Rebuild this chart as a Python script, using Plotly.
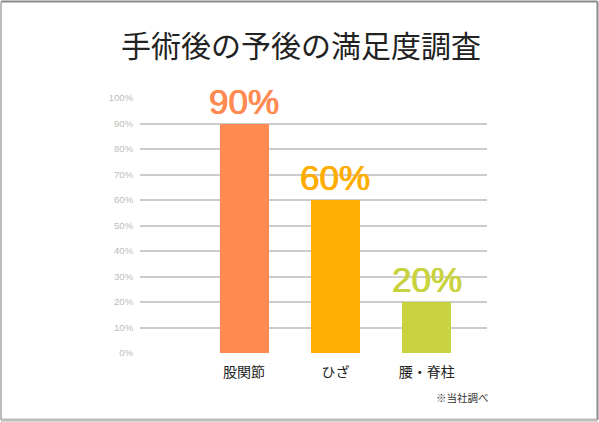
import plotly.graph_objects as go

categories = ["股関節", "ひざ", "腰・脊柱"]
values = [90, 60, 20]
labels = ["90%", "60%", "20%"]
colors = ["#FF8A52", "#FFAD00", "#C9D33F"]
tick_vals = [0, 10, 20, 30, 40, 50, 60, 70, 80, 90, 100]
tick_text = [f"{v}%" for v in tick_vals]
title_text = "手術後の予後の満足度調査"
note_text = "※当社調べ"

W, H = 599, 422
L, R, T, B = 140, 112, 98, 69
pw, ph = W - L - R, H - T - B

def px_x(x):
    return (x - L) / pw

def px_y(y):
    return (H - B - y) / ph

fig = go.Figure()
fig.add_trace(go.Bar(
    x=categories, y=values, marker=dict(color=colors, line=dict(width=0)),
    width=0.535, hoverinfo="skip",
))

for c, v, t, col in zip(categories, values, labels, colors):
    fig.add_annotation(x=c, y=v, text=t, showarrow=False, xref="x", yref="y",
                       yanchor="bottom", yshift=1,
                       font=dict(family="Liberation Sans, Arial", size=35, color=col,
                                 shadow=f"0.5px 0 0 {col}, -0.5px 0 0 {col}"))

fig.add_annotation(x=px_x(301), y=px_y(44), xref="paper", yref="paper",
                   text=title_text, showarrow=False, xanchor="center", yanchor="middle",
                   font=dict(family="Noto Sans CJK JP", size=30, color="#222222"))
fig.add_annotation(x=px_x(491), y=px_y(397), xref="paper", yref="paper",
                   text=note_text, showarrow=False, xanchor="right", yanchor="middle",
                   font=dict(family="Noto Sans CJK JP", size=10.5, color="#333333"))

# border
x0, x1 = px_x(1), px_x(597.5)
y0, y1 = px_y(420), px_y(1.5)
fig.add_shape(type="line", xref="paper", yref="paper", x0=x0, x1=x1, y0=y1, y1=y1,
              line=dict(color="#8a8a8a", width=2))
fig.add_shape(type="line", xref="paper", yref="paper", x0=x1, x1=x1, y0=y0, y1=y1,
              line=dict(color="#8a8a8a", width=2))
fig.add_shape(type="line", xref="paper", yref="paper", x0=x0, x1=x1, y0=y0, y1=y0,
              line=dict(color="#bbbbbb", width=3))
fig.add_shape(type="line", xref="paper", yref="paper", x0=x0, x1=x0, y0=y0, y1=y1,
              line=dict(color="#bbbbbb", width=2))

fig.update_layout(
    width=W, height=H,
    margin=dict(l=L, r=R, t=T, b=B),
    paper_bgcolor="white", plot_bgcolor="white",
    showlegend=False, bargap=0,
    xaxis=dict(type="category", range=[-1.14, 2.66], showgrid=False, zeroline=False,
               showline=False, ticks="outside", ticklen=6, tickcolor="rgba(0,0,0,0)",
               tickfont=dict(family="Noto Sans CJK JP", size=14, color="#222222"),
               fixedrange=True),
    yaxis=dict(range=[0, 100], tickvals=tick_vals, ticktext=tick_text,
               showgrid=True, gridcolor="#cccccc", gridwidth=2, zeroline=False,
               showline=False, ticks="outside", ticklen=4, tickcolor="rgba(0,0,0,0)",
               tickfont=dict(family="Liberation Sans, Arial", size=9.5, color="#bbbbbb"),
               fixedrange=True),
)

fig.write_html("out.html", config={"displayModeBar": False})
with open("out.html", "r", encoding="utf-8") as f:
    html = f.read()
html = html.replace("<body>", '<body style="margin:0;padding:0;">', 1)
with open("out.html", "w", encoding="utf-8") as f:
    f.write(html)
